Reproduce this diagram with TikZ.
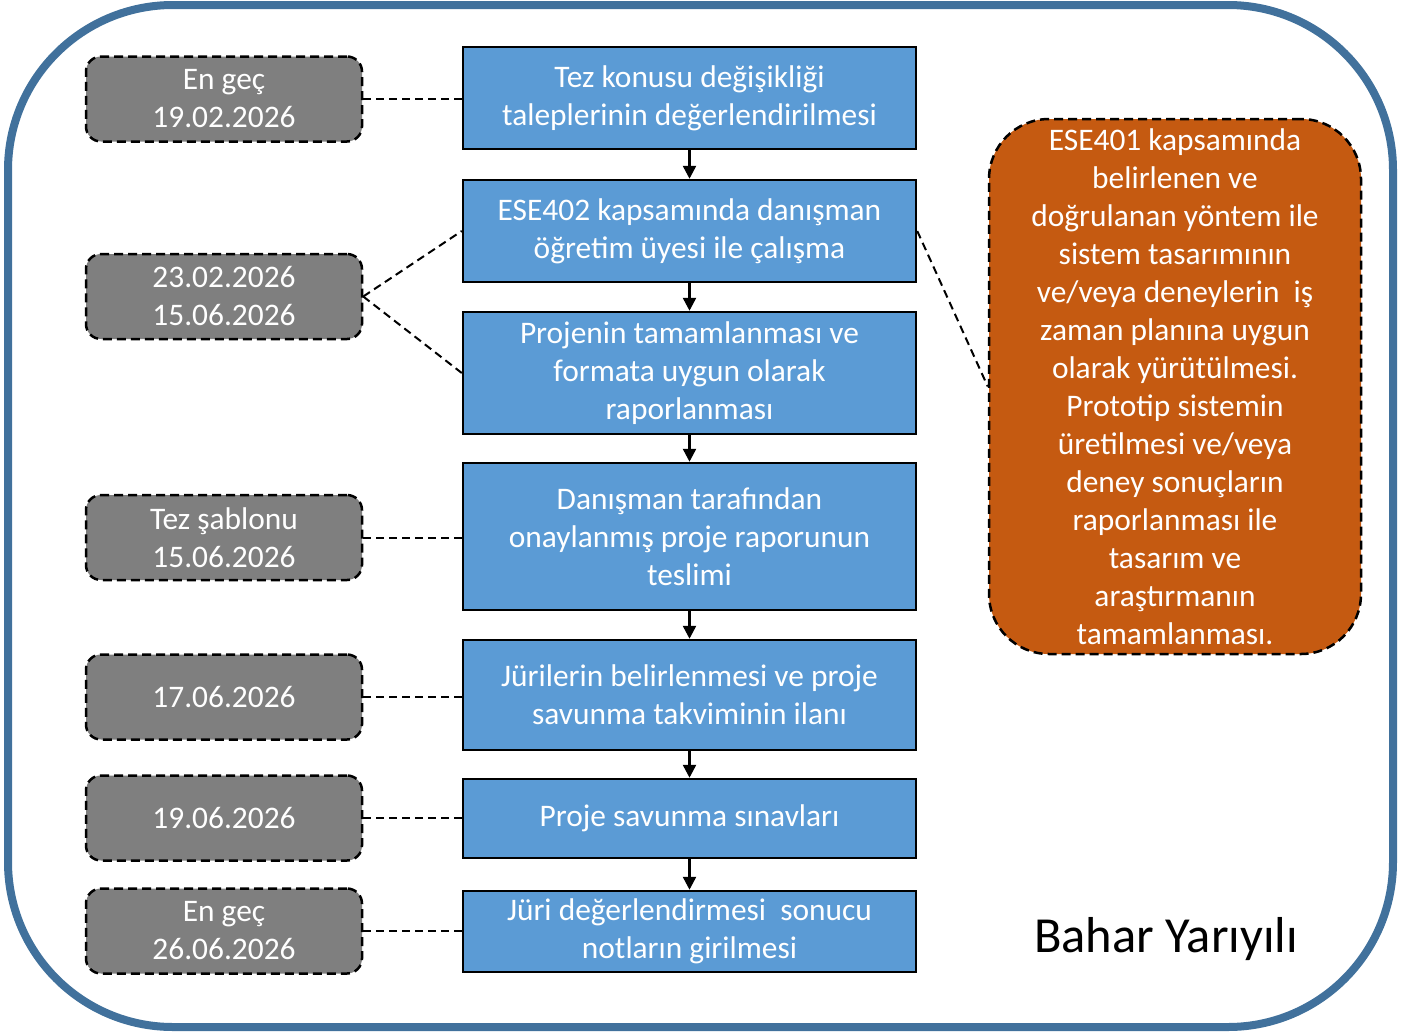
\documentclass[tikz,border=0pt]{standalone}
\usepackage{fontspec}
\setmainfont{Carlito}
\usetikzlibrary{arrows.meta}
\definecolor{frameblue}{HTML}{41719C}
\definecolor{stepblue}{HTML}{5B9BD5}
\definecolor{dategray}{HTML}{7F7F7F}
\definecolor{noteorange}{HTML}{C55A11}
\tikzset{
  boxtext/.style={text=white, align=center, inner sep=0pt,
    font=\fontsize{31.4}{38}\selectfont},
  stepbox/.style={boxtext, draw=black, line width=2.5pt, fill=stepblue,
    minimum width=453pt},
  datebox/.style={boxtext, draw=black, line width=2.5pt, dash pattern=on 9pt off 5pt,
    rounded corners=15pt, fill=dategray, minimum width=276pt, minimum height=85pt},
  notebox/.style={boxtext, draw=black, line width=2.5pt, dash pattern=on 9pt off 5pt,
    rounded corners=60pt, fill=noteorange, minimum width=372pt, minimum height=535pt},
  link/.style={line width=2pt, dash pattern=on 8pt off 5pt},
  flow/.style={line width=2.5pt, -{Triangle[length=13pt,width=13pt]}}
}
\begin{document}
\begin{tikzpicture}[x=1pt,y=-1pt]
  \useasboundingbox (0,0) rectangle (1406,1034);
  \draw[frameblue, line width=8pt, rounded corners=165pt] (8,5) rectangle (1393,1027);
  % steps
  \node[stepbox, minimum height=102pt] (s1) at (689.5,98) {Tez konusu değişikliği\\taleplerinin değerlendirilmesi};
  \node[stepbox, minimum height=102pt] (s2) at (689.5,231) {ESE402 kapsamında danışman\\öğretim üyesi ile çalışma};
  \node[stepbox, minimum height=122pt] (s3) at (689.5,373) {Projenin tamamlanması ve\\formata uygun olarak\\raporlanması};
  \node[stepbox, minimum height=147pt] (s4) at (689.5,536.5) {Danışman tarafından\\onaylanmış proje raporunun\\teslimi};
  \node[stepbox, minimum height=110pt] (s5) at (689.5,695) {Jürilerin belirlenmesi ve proje\\savunma takviminin ilanı};
  \node[stepbox, minimum height=79pt] (s6) at (689.5,818.5) {Proje savunma sınavları};
  \node[stepbox, minimum height=81pt] (s7) at (689.5,931.5) {Jüri değerlendirmesi\ \ sonucu\\notların girilmesi};
  % dates
  \node[datebox] (d1) at (224,99) {En geç\\19.02.2026};
  \node[datebox] (d2) at (224,296.5) {23.02.2026\\15.06.2026};
  \node[datebox] (d3) at (224,537.5) {Tez şablonu\\15.06.2026};
  \node[datebox] (d4) at (224,697) {17.06.2026};
  \node[datebox] (d5) at (224,818) {19.06.2026};
  \node[datebox] (d6) at (224,931) {En geç\\26.06.2026};
  \node[notebox] (note) at (1175,386.5) {ESE401 kapsamında\\belirlenen ve\\doğrulanan yöntem ile\\sistem tasarımının\\ve/veya deneylerin\ \ iş\\zaman planına uygun\\olarak yürütülmesi.\\Prototip sistemin\\üretilmesi ve/veya\\deney sonuçların\\raporlanması ile\\tasarım ve\\araştırmanın\\tamamlanması.};
  \node[font=\fontsize{50.5}{60}\selectfont] (term) at (1166,939) {Bahar Yarıyılı};
  \begin{scope}[flow]
    \draw (s1) to (s2);
    \draw (s2) to (s3);
    \draw (s3) to (s4);
    \draw (s4) to (s5);
    \draw (s5) to (s6);
    \draw (s6) to (s7);
  \end{scope}
  \begin{scope}[link]
    \draw (d1.east) to (d1.east -| s1.west);
    \draw (d2.east) to (s2.west);
    \draw (d2.east) to (s3.west);
    \draw (d3.east) to (d3.east -| s4.west);
    \draw (d4.east) to (d4.east -| s5.west);
    \draw (d5.east) to (d5.east -| s6.west);
    \draw (d6.east) to (d6.east -| s7.west);
    \draw (s2.east) to (note.west);
  \end{scope}
\end{tikzpicture}
\end{document}
